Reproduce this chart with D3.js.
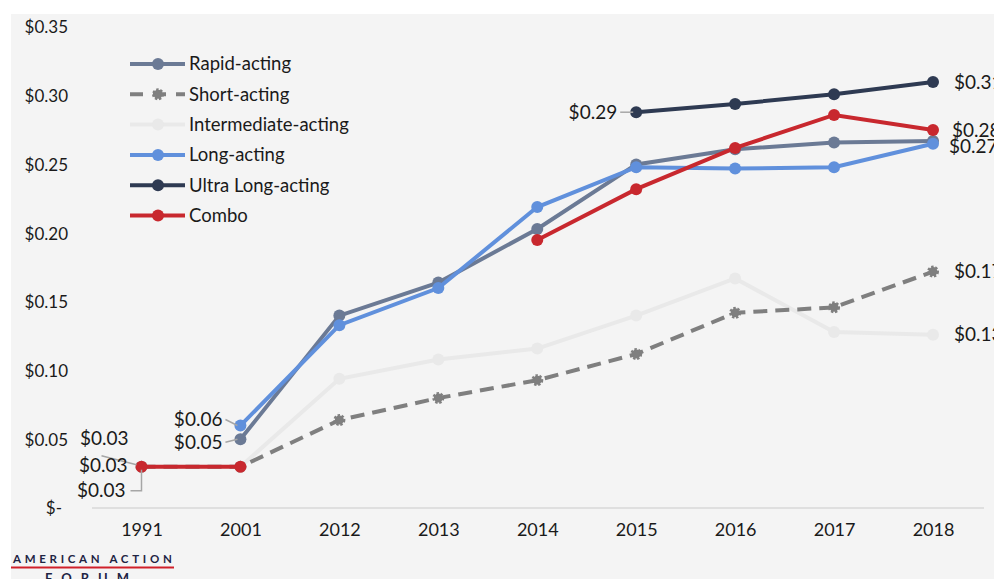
<!DOCTYPE html>
<html>
<head>
<meta charset="utf-8">
<script src="https://cdn.jsdelivr.net/npm/d3@7"></script>
<style>
body { margin: 0; background: #fff; }
text { font-family: Lato, "Open Sans", sans-serif; fill: #1a1a1a; }
</style>
</head>
<body>
<div id="chart"></div>
<script>
// insulin price per unit, by type

var width = 994;
var height = 579;

var years = ["1991", "2001", "2012", "2013", "2014", "2015", "2016", "2017", "2018"];
var yTicks = [0, 0.05, 0.10, 0.15, 0.20, 0.25, 0.30, 0.35];

var names = ["Rapid-acting", "Short-acting", "Intermediate-acting", "Long-acting", "Ultra Long-acting", "Combo"];
var colors = ["#6b7a95", "#7f7f7f", "#e9e9e9", "#6090dc", "#2e3a52", "#c8282e"];

var rapid = [null, 0.050, 0.140, 0.164, 0.203, 0.250, 0.261, 0.266, 0.267];
var shortActing = [0.03, 0.03, 0.064, 0.080, 0.093, 0.112, 0.142, 0.146, 0.172];
var intermediate = [0.03, 0.03, 0.094, 0.108, 0.116, 0.140, 0.167, 0.128, 0.126];
var longActing = [null, 0.060, 0.133, 0.160, 0.219, 0.248, 0.247, 0.248, 0.265];
var ultraLong = [null, null, null, null, null, 0.288, 0.294, 0.301, 0.310];
var combo = [0.03, 0.03, null, null, 0.195, 0.232, 0.262, 0.286, 0.275];

var seriesValues = [rapid, shortActing, intermediate, longActing, ultraLong, combo];
var drawOrder = [2, 1, 0, 3, 4, 5];

var series = names.map(function(n, i){
	return {name: n, color: colors[i], dashed: i == 1,
		values: seriesValues[i].map(function(v, j){ return {year: years[j], v: v}; })};
});

var fmt = function(v){ return v == 0 ? "$-" : "$" + d3.format(".2f")(v); };

var svg = d3.select("#chart").append("svg")
	.attr("width", width)
	.attr("height", height);

svg.append("rect")
	.attr("x", 11).attr("y", 14)
	.attr("width", width - 11).attr("height", height - 14)
	.style("fill", "#f4f4f4");

var x = d3.scalePoint().domain(years).range([141.5, 933]);
var y = d3.scaleLinear().domain([0, 0.35]).range([508, 27]);

// baseline
svg.append("line")
	.attr("x1", 92).attr("x2", 984)
	.attr("y1", y(0)).attr("y2", y(0))
	.style("stroke", "#d9d9d9").style("stroke-width", 1.5);

var yAxis = svg.append("g")
	.attr("transform", "translate(68,0)")
	.call(d3.axisLeft(y).tickValues(yTicks).tickFormat(fmt).tickSize(0).tickPadding(0));
yAxis.select(".domain").remove();
yAxis.selectAll("text")
	.style("font-size", "17px")
	.attr("dy", "0.35em")
	.attr("dx", function(d){ return d == 0 ? -6 : 0; });

var xAxis = svg.append("g")
	.attr("transform", "translate(0," + y(0) + ")")
	.call(d3.axisBottom(x).tickSize(0).tickPadding(15));
xAxis.select(".domain").remove();
xAxis.selectAll("text").style("font-size", "18px");

var line = d3.line()
	.defined(function(d){ return d.v != null; })
	.x(function(d){ return x(d.year); })
	.y(function(d){ return y(d.v); });

function marker(g, s, cx, cy){
	if (s.dashed) {
		g.append("circle")
			.attr("cx", cx).attr("cy", cy).attr("r", 4.5)
			.style("fill", s.color)
			.style("stroke", s.color).style("stroke-width", 3)
			.style("stroke-dasharray", "2.2,1.6");
	} else {
		g.append("circle")
			.attr("cx", cx).attr("cy", cy).attr("r", 6)
			.style("fill", s.color);
	}
}

drawOrder.forEach(function(i){
	var s = series[i];
	var g = svg.append("g");
	g.append("path")
		.datum(s.values)
		.attr("d", line)
		.style("fill", "none")
		.style("stroke", s.color)
		.style("stroke-width", 4)
		.style("stroke-dasharray", s.dashed ? "14,8" : null);
	s.values.forEach(function(d){
		if (d.v != null) marker(g, s, x(d.year), y(d.v));
	});
});

// data labels
var labels = [
	{s: 0, i: 1, dx: -18, dy: 3, anchor: "end", lead: true},
	{s: 3, i: 1, dx: -18, dy: -6, anchor: "end", lead: true},
	{s: 4, i: 5, dx: -19, dy: 0, anchor: "end", lead: true},
	{s: 4, i: 8, dx: 21, dy: 0, anchor: "start"},
	{s: 5, i: 8, dx: 19, dy: 0, anchor: "start"},
	{s: 3, i: 8, dx: 16, dy: 3, anchor: "start"},
	{s: 1, i: 8, dx: 21, dy: 0, anchor: "start"},
	{s: 2, i: 8, dx: 21, dy: 0, anchor: "start"}
];
var lg = svg.append("g");
labels.forEach(function(l){
	var s = series[l.s];
	var px = x(years[l.i]), py = y(s.values[l.i].v);
	if (l.lead) {
		lg.append("line")
			.attr("x1", px + l.dx + 3).attr("x2", px - 3)
			.attr("y1", py + l.dy).attr("y2", py)
			.style("stroke", "#a6a6a6").style("stroke-width", 1.5);
	}
	lg.append("text")
		.attr("x", px + l.dx).attr("y", py + l.dy)
		.attr("dy", "0.35em")
		.attr("text-anchor", l.anchor)
		.style("font-size", "19px")
		.text(fmt(s.values[l.i].v));
});

// three stacked labels at 1991
var p0x = x("1991"), p0y = y(combo[0]);
lg.append("path")
	.attr("d", "M" + (p0x - 40) + "," + (p0y - 11) + "L" + (p0x - 5) + "," + (p0y - 2))
	.style("fill", "none").style("stroke", "#a6a6a6").style("stroke-width", 1.5);
lg.append("path")
	.attr("d", "M" + (p0x - 11) + "," + (p0y + 24) + "H" + (p0x) + "V" + (p0y + 3))
	.style("fill", "none").style("stroke", "#a6a6a6").style("stroke-width", 1.5);
[[intermediate[0], -28, -13], [shortActing[0], -1, -14], [combo[0], 24, -16]].forEach(function(a){
	lg.append("text")
		.attr("x", p0x + a[2]).attr("y", p0y + a[1])
		.attr("dy", "0.35em")
		.attr("text-anchor", "end")
		.style("font-size", "19px")
		.text(fmt(a[0]));
});

// legend
var legend = svg.append("g").attr("transform", "translate(130,64)");
names.forEach(function(n, i){
	var s = series[i];
	var row = legend.append("g").attr("transform", "translate(0," + (i * 30.3) + ")");
	row.append("line")
		.attr("x1", 0).attr("x2", 55)
		.style("stroke", s.color).style("stroke-width", 4)
		.style("stroke-dasharray", s.dashed ? "13,10" : null);
	marker(row, s, 28, 0);
	row.append("text")
		.attr("x", 59).attr("dy", "0.35em")
		.style("font-size", "18.5px")
		.text(n);
});

// logo
var logo = svg.append("g");
logo.append("text")
	.attr("x", 13).attr("y", 563)
	.style("font-size", "11.5px").style("font-weight", "bold")
	.style("letter-spacing", "3.7px")
	.style("fill", "#1f2444")
	.text("AMERICAN ACTION");
logo.append("line")
	.attr("x1", 11).attr("x2", 174)
	.attr("y1", 567.5).attr("y2", 567.5)
	.style("stroke", "#d0202a").style("stroke-width", 2.2);
logo.append("text")
	.attr("x", 45).attr("y", 583)
	.style("font-size", "13px").style("font-weight", "bold")
	.style("letter-spacing", "9px")
	.style("fill", "#1f2444")
	.text("FORUM");
</script>
</body>
</html>
